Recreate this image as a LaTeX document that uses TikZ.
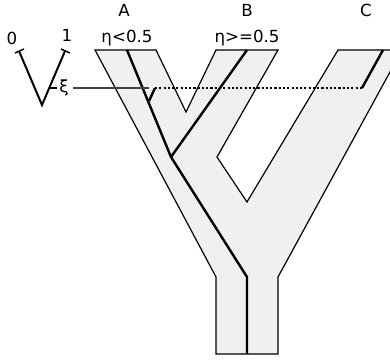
\documentclass[tikz,border=0pt]{standalone}
\usepackage{fontspec}
\setmainfont{DejaVu Sans}
\begin{document}
\begin{tikzpicture}[x=0.75pt,y=-0.75pt,
  species/.style={draw=black,fill=black!6,line width=0.9pt,line join=miter},
  gene/.style={draw=black,line width=1.8pt},
  scaleline/.style={draw=black,line width=1.5pt},
  tick/.style={draw=black,line width=1.1pt},
  lbl/.style={font=\fontsize{12.5}{14}\selectfont,inner sep=0pt},
  dots/.style={draw=black,line width=1.6pt,dash pattern=on 1.6pt off 1.6pt},
  thin/.style={draw=black!75,line width=0.8pt}]
\useasboundingbox (0,0) rectangle (390,360);
\clip (0,0) rectangle (390,360);
% species tree outline
\path[species] (95,50) -- (156,50) -- (186,112) -- (216,50) -- (278,50)
  -- (217,157) -- (247,202) -- (338,50) -- (402,50) -- (278,277)
  -- (278,354) -- (216,354) -- (216,277) -- cycle;
% gene tree coordinates
\coordinate (gA) at (127,50);
\coordinate (gB) at (247,50);
\coordinate (gC) at (383,50);
\coordinate (jAB) at (171,157);
\coordinate (jT) at (247,277);
\coordinate (root) at (247,354);
\coordinate (jX) at (149,101);
\coordinate (xA) at (155,88);
\coordinate (xC) at (362,88);
\coordinate (xs) at (73,88);
% gene lines
\draw[gene,line join=round] (gA) -- (jAB) -- (jT) -- (root);
\draw[gene] (gB) -- (jAB);
\draw[gene] (jX) -- (xA);
\draw[gene] (xC) -- (gC);
\draw[dots] (xA) -- (xC);
\draw[thin] (xs) -- (jX |- xs);
% scale V
\coordinate (v0) at (19,51);
\coordinate (vb) at (42,105);
\coordinate (v1) at (65,51);
\draw[scaleline,line join=miter] (v0) -- (vb) -- (v1);
\draw[tick] (15,53) -- (24,49);
\draw[tick] (61,49) -- (70,53);
\coordinate (vx) at (49.5,88);
\draw[tick] (vx) -- (57,88);
\node[lbl] (xi) at (64,88) {ξ};
\node[lbl,anchor=base] (l0) at (12,45) {0};
\node[lbl,anchor=base] (l1) at (67,42) {1};
% labels
\node[lbl,anchor=base] (A) at (124,17) {A};
\node[lbl,anchor=base] (B) at (247,17) {B};
\node[lbl,anchor=base] (C) at (366,17) {C};
\node[lbl,anchor=base] (ea) at (127,43) {η<0.5};
\node[lbl,anchor=base] (eb) at (247,43) {η>=0.5};
\end{tikzpicture}
\end{document}
